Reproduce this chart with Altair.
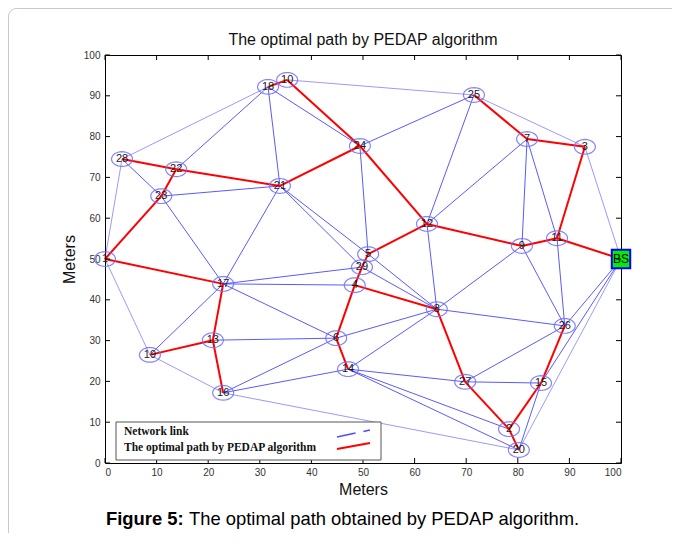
import altair as alt
import pandas as pd
import math

# ---------------- data ----------------
node_ids = ["1", "2", "3", "4", "5", "6", "7", "8", "9", "10", "11", "12", "13", "14", "15",
            "16", "17", "18", "19", "20", "21", "22", "23", "24", "25", "26", "27", "28", "29"]
node_x = [0.0, 78.3, 93.0, 48.4, 51.0, 44.8, 81.8, 64.3, 80.8, 35.3, 87.6, 62.4, 20.9, 47.1, 84.5,
          22.9, 22.9, 31.6, 8.7, 80.2, 33.9, 13.8, 10.9, 49.4, 71.5, 89.1, 69.8, 3.3, 49.8]
node_y = [50.0, 8.3, 77.5, 43.6, 51.2, 30.6, 79.4, 37.7, 53.2, 93.9, 55.1, 58.6, 30.1, 23.0, 19.6,
          17.2, 43.9, 92.2, 26.5, 3.2, 67.9, 72.0, 65.4, 77.7, 90.2, 33.6, 19.9, 74.5, 48.0]
bs_label = ["BS"]
bs_x = [100.0]
bs_y = [50.0]

red_edges = [("18", "10"), ("10", "24"), ("24", "21"), ("21", "22"), ("22", "28"), ("22", "23"),
             ("23", "1"), ("1", "17"), ("17", "13"), ("13", "19"), ("13", "16"), ("24", "12"),
             ("12", "5"), ("5", "29"), ("29", "4"), ("4", "8"), ("4", "6"), ("6", "14"),
             ("8", "27"), ("27", "2"), ("2", "20"), ("2", "15"), ("15", "26"), ("12", "9"),
             ("9", "11"), ("11", "BS"), ("11", "3"), ("3", "7"), ("7", "25")]
blue_edges = [("18", "22"), ("18", "21"), ("18", "24"), ("24", "25"), ("24", "5"), ("21", "23"),
              ("21", "17"), ("21", "5"), ("21", "29"), ("28", "23"), ("23", "17"), ("17", "29"),
              ("17", "4"), ("17", "6"), ("17", "19"), ("13", "6"), ("16", "6"), ("16", "14"),
              ("6", "8"), ("14", "8"), ("14", "27"), ("14", "2"), ("14", "20"), ("5", "8"),
              ("29", "8"), ("12", "8"), ("12", "25"), ("12", "7"), ("7", "9"), ("7", "11"),
              ("9", "8"), ("9", "26"), ("11", "26"), ("8", "26"), ("27", "26"), ("27", "15"),
              ("26", "BS"), ("15", "BS"), ("15", "20")]
light_edges = [("28", "18"), ("28", "1"), ("1", "19"), ("19", "16"), ("16", "20"), ("10", "25"),
               ("25", "3"), ("3", "BS"), ("20", "BS"), ("18", "10")]

tick_values = [0, 10, 20, 30, 40, 50, 60, 70, 80, 90, 100]

chart_title = "The optimal path by PEDAP algorithm"
axis_title = "Meters"
legend_labels = ["Network link", "The optimal path by PEDAP algorithm"]
caption_bold = "Figure 5:"
caption_rest = "The optimal path obtained by PEDAP algorithm."

# ---------------- tables ----------------
pos = {n: (x, y) for n, x, y in zip(node_ids, node_x, node_y)}
pos["BS"] = (bs_x[0], bs_y[0])


def edge_df(edges):
    return pd.DataFrame({
        "x": [pos[a][0] for a, b in edges], "y": [pos[a][1] for a, b in edges],
        "x2": [pos[b][0] for a, b in edges], "y2": [pos[b][1] for a, b in edges],
    })


nodes_df = pd.DataFrame({"id": node_ids, "x": node_x, "y": node_y})
bs_df = pd.DataFrame({"id": bs_label, "x": bs_x, "y": bs_y})
ticks_df = pd.DataFrame({"t": tick_values})
one = pd.DataFrame({"a": [0]})

W, H = 516, 408
PAD = {"left": 97, "top": 47, "right": 51, "bottom": 70}

FONT = "Liberation Sans"
xs = alt.Scale(domain=[0, 100], nice=False, zero=False)
ys = alt.Scale(domain=[0, 100], nice=False, zero=False)
xax = alt.Axis(values=tick_values, ticks=False, grid=False, domain=False, labelPadding=4,
               labelFontSize=10, labelColor="#333333", labelFont=FONT, title=axis_title,
               titleFontSize=16, titleFont=FONT, titleFontWeight="normal", titleColor="#111111",
               titlePadding=4)
yax = alt.Axis(values=tick_values, ticks=False, grid=False, domain=False, labelPadding=5,
               labelFontSize=10, labelColor="#333333", labelFont=FONT, title=axis_title,
               titleFontSize=16, titleFont=FONT, titleFontWeight="normal", titleColor="#111111",
               titlePadding=6)


def X(f="x"):
    return alt.X(f"{f}:Q", scale=xs, axis=xax)


def Y(f="y"):
    return alt.Y(f"{f}:Q", scale=ys, axis=yax)


# figure frame (right/bottom edges fall outside the drawing surface)
frame = alt.Chart(one).mark_rect(fill="white", fillOpacity=0, stroke="#c8c8c8", strokeWidth=1,
                                 cornerRadius=8).encode(
    x=alt.value(-96.5), x2=alt.value(W + PAD["right"] + 12),
    y=alt.value(-46.5), y2=alt.value(H + PAD["bottom"] + 12))

title_mark = alt.Chart(one).mark_text(align="center", baseline="middle", font=FONT, fontSize=16,
                                      color="#111111", text=chart_title).encode(
    x=alt.value(W / 2), y=alt.value(-15))

light = alt.Chart(edge_df(light_edges)).mark_rule(color="#0000ff", opacity=0.4, strokeWidth=1).encode(
    x=X(), y=Y(), x2="x2:Q", y2="y2:Q")
blue = alt.Chart(edge_df(blue_edges)).mark_rule(color="#0000ff", opacity=0.65, strokeWidth=1).encode(
    x=X(), y=Y(), x2="x2:Q", y2="y2:Q")
red = alt.Chart(edge_df(red_edges)).mark_rule(color="#ff0000", strokeWidth=2).encode(
    x=X(), y=Y(), x2="x2:Q", y2="y2:Q")

# ellipse symbol path
pts = []
for k in range(33):
    a = 2 * math.pi * k / 32
    pts.append(f"{math.cos(a):.3f} {0.7 * math.sin(a):.3f}")
ellipse = "M " + " L ".join(pts) + " Z"

circles = alt.Chart(nodes_df).mark_point(shape=ellipse, size=440, filled=False, color="#6f6fff",
                                         strokeWidth=1.2, opacity=0.85).encode(x=X(), y=Y())
labels = alt.Chart(nodes_df).mark_text(fontSize=11, font=FONT, color="#1a1a1a").encode(
    x=X(), y=Y(), text="id:N")

bs_sq = alt.Chart(bs_df).mark_square(size=340, fill="#00ee00", fillOpacity=1, stroke="#0000ff",
                                     strokeWidth=2).encode(x=X(), y=Y())
bs_txt = alt.Chart(bs_df).mark_text(fontSize=12, font=FONT, color="black").encode(
    x=X(), y=Y(), text="id:N")

# inward ticks on all four sides
tb = alt.Chart(ticks_df).mark_rule(color="black", strokeWidth=1).encode(
    x=alt.X("t:Q", scale=xs, axis=xax), y=alt.value(H), y2=alt.value(H - 5))
tt = alt.Chart(ticks_df).mark_rule(color="black", strokeWidth=1).encode(
    x=alt.X("t:Q", scale=xs, axis=xax), y=alt.value(0), y2=alt.value(5))
tl = alt.Chart(ticks_df).mark_rule(color="black", strokeWidth=1).encode(
    y=alt.Y("t:Q", scale=ys, axis=yax), x=alt.value(0), x2=alt.value(5))
tr = alt.Chart(ticks_df).mark_rule(color="black", strokeWidth=1).encode(
    y=alt.Y("t:Q", scale=ys, axis=yax), x=alt.value(W), x2=alt.value(W - 5))

# legend
leg_box = alt.Chart(one).mark_rect(fill="white", stroke="#555555", strokeWidth=1).encode(
    x=alt.value(11), x2=alt.value(276), y=alt.value(367), y2=alt.value(405))
leg_t1 = alt.Chart(one).mark_text(align="left", baseline="middle", font="Liberation Serif",
                                  fontWeight="bold", fontSize=11.5, color="#111111",
                                  text=legend_labels[0]).encode(x=alt.value(19), y=alt.value(377))
leg_t2 = alt.Chart(one).mark_text(align="left", baseline="middle", font="Liberation Serif",
                                  fontWeight="bold", fontSize=11.5, color="#111111",
                                  text=legend_labels[1]).encode(x=alt.value(19), y=alt.value(393))
leg_l1 = alt.Chart(one).mark_rule(color="#0000ff", opacity=0.7, strokeWidth=1.5,
                                  strokeDash=[19, 8]).encode(
    x=alt.value(232), x2=alt.value(265), y=alt.value(382), y2=alt.value(375))
leg_l2 = alt.Chart(one).mark_rule(color="#ff0000", strokeWidth=2).encode(
    x=alt.value(232), x2=alt.value(265), y=alt.value(394), y2=alt.value(388))

# caption
cap1 = alt.Chart(one).mark_text(align="left", baseline="middle", font=FONT, fontWeight="bold",
                                fontSize=18.4, color="black", text=caption_bold).encode(
    x=alt.value(1), y=alt.value(464))
cap2 = alt.Chart(one).mark_text(align="left", baseline="middle", font=FONT, fontWeight="normal",
                                fontSize=18.4, color="black", text=caption_rest).encode(
    x=alt.value(84), y=alt.value(464))

chart = alt.layer(
    frame, title_mark, light, blue, red, circles, labels, bs_sq, bs_txt, tb, tt, tl, tr,
    leg_box, leg_t1, leg_t2, leg_l1, leg_l2, cap1, cap2
).properties(
    width=W, height=H,
    padding=PAD,
    autosize=alt.AutoSizeParams(type="none"),
).configure_view(stroke="black", strokeWidth=1)

chart.save("out.html", embed_options={"renderer": "svg", "actions": False})
